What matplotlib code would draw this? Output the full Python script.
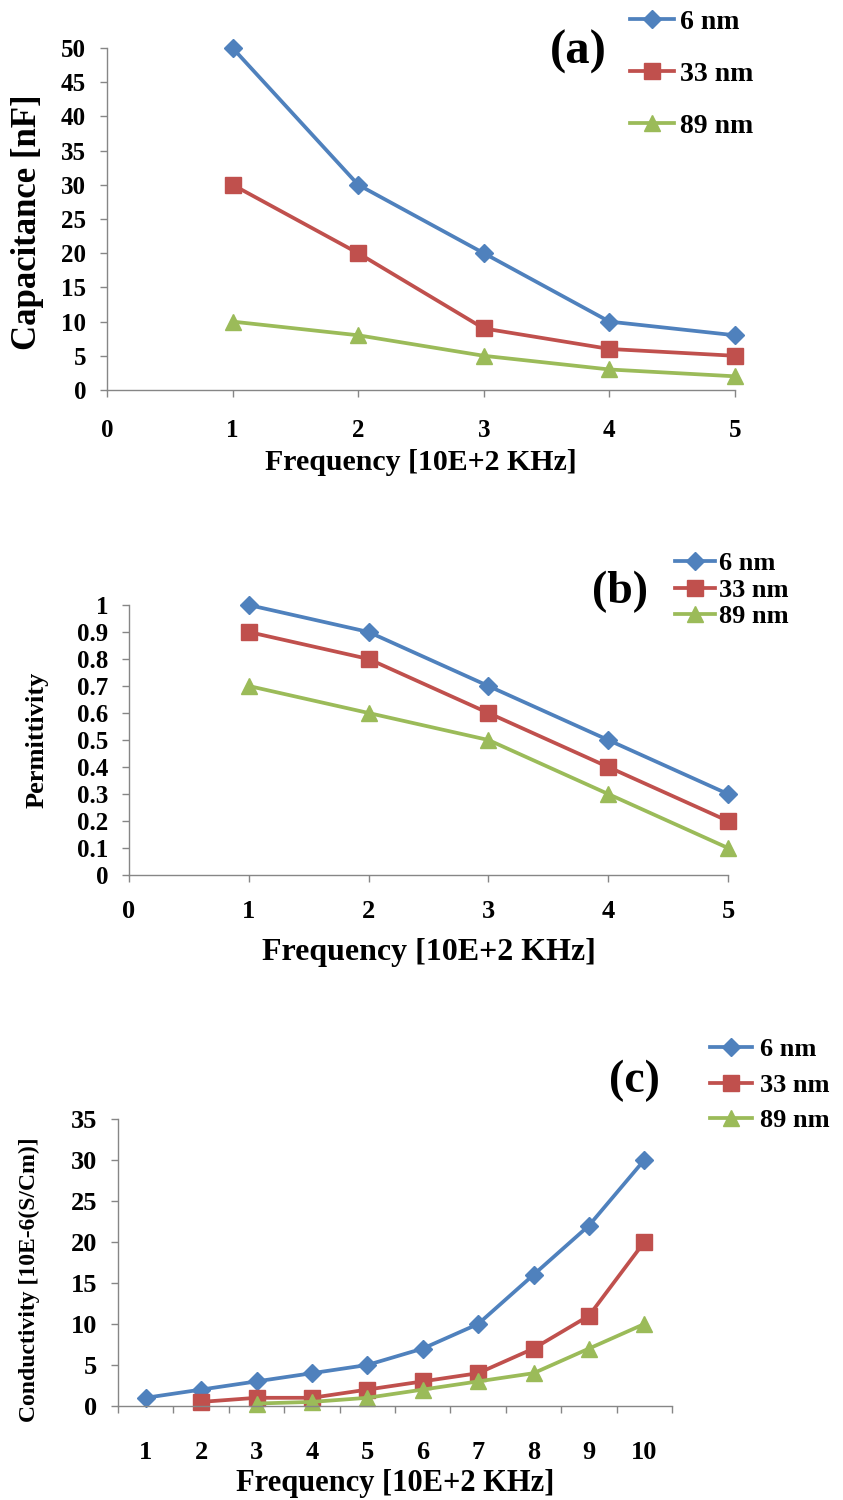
import numpy as np
import matplotlib.pyplot as plt
from matplotlib.ticker import FixedLocator, NullFormatter

# data
sizes = ["6 nm", "33 nm", "89 nm"]
colors = ["#4F81BD", "#C0504D", "#9BBB59"]
markers = ["D", "s", "^"]
msizes = [9, 11, 11]

freq_ab = [1, 2, 3, 4, 5]
cap_6 = [50, 30, 20, 10, 8]
cap_33 = [30, 20, 9, 6, 5]
cap_89 = [10, 8, 5, 3, 2]

perm_6 = [1.0, 0.9, 0.7, 0.5, 0.3]
perm_33 = [0.9, 0.8, 0.6, 0.4, 0.2]
perm_89 = [0.7, 0.6, 0.5, 0.3, 0.1]

freq_c = [1, 2, 3, 4, 5, 6, 7, 8, 9, 10]
cond_6 = [1, 2, 3, 4, 5, 7, 10, 16, 22, 30]
cond_33 = [np.nan, 0.5, 1, 1, 2, 3, 4, 7, 11, 20]
cond_89 = [np.nan, np.nan, 0.3, 0.5, 1, 2, 3, 4, 7, 10]

plt.rcParams['font.family'] = ['Liberation Serif', 'DejaVu Serif']
plt.rcParams['font.weight'] = 'bold'

W, H = 843, 1500
fig = plt.figure(figsize=(W / 100, H / 100), dpi=100)

GREY = "#868686"


def px_axes(left, right, top, bottom):
    return fig.add_axes([left / W, 1 - bottom / H, (right - left) / W, (bottom - top) / H])


def style(ax):
    for s in ["top", "right"]:
        ax.spines[s].set_visible(False)
    for s in ["left", "bottom"]:
        ax.spines[s].set_color(GREY)
        ax.spines[s].set_linewidth(1.0)
    ax.tick_params(colors=GREY, labelcolor="black", length=5, width=1.0)


def draw(ax, x, series):
    lines = []
    for y, c, m, ms, lab in zip(series, colors, markers, msizes, sizes):
        ln, = ax.plot(x, y, color=c, lw=2.7, marker=m, markersize=ms,
                      markerfacecolor=c, markeredgecolor=c, label=lab, clip_on=False)
        lines.append(ln)
    return lines


# panel (a)
ax1 = px_axes(107, 735, 48, 390)
style(ax1)
h1 = draw(ax1, freq_ab, [cap_6, cap_33, cap_89])
ax1.set_xlim(0, 5)
ax1.set_ylim(0, 50)
ax1.set_xticks(range(0, 6))
ax1.set_yticks(range(0, 51, 5))
ax1.tick_params(axis="x", labelsize=18, pad=16)
ax1.tick_params(axis="y", labelsize=18, pad=10)
ax1.set_xlabel("Frequency [10E+2 KHz]", fontsize=21.5, fontweight="bold")
ax1.xaxis.set_label_coords(0.5, -0.172)
ax1.set_ylabel("Capacitance [nF]", fontsize=25, fontweight="bold")
ax1.yaxis.set_label_coords(-0.1, 0.49)
fig.text(578 / W, 1 - 52 / H, "(a)", fontsize=35, fontweight="bold", ha="center", va="center")
fig.legend(h1, sizes, loc="center left", bbox_to_anchor=(630 / W, 1 - 74 / H),
           frameon=False, fontsize=20, handlelength=1.6, handletextpad=0.2,
           labelspacing=0.95, borderpad=0, borderaxespad=0)

# panel (b)
ax2 = px_axes(129, 728, 605, 875)
style(ax2)
h2 = draw(ax2, freq_ab, [perm_6, perm_33, perm_89])
ax2.set_xlim(0, 5)
ax2.set_ylim(0, 1)
ax2.set_xticks(range(0, 6))
ax2.set_yticks(np.round(np.arange(0, 1.01, 0.1), 1))
ax2.set_yticklabels(["0", "0.1", "0.2", "0.3", "0.4", "0.5", "0.6", "0.7", "0.8", "0.9", "1"])
ax2.tick_params(axis="x", labelsize=19, pad=13)
ax2.tick_params(axis="y", labelsize=18, pad=10)
ax2.set_xlabel("Frequency [10E+2 KHz]", fontsize=23, fontweight="bold")
ax2.xaxis.set_label_coords(0.5, -0.235)
ax2.set_ylabel("Permittivity", fontsize=19, fontweight="bold")
ax2.yaxis.set_label_coords(-0.135, 0.5)
fig.text(620 / W, 1 - 592 / H, "(b)", fontsize=33, fontweight="bold", ha="center", va="center")
fig.legend(h2, sizes, loc="center left", bbox_to_anchor=(675 / W, 1 - 590 / H),
           frameon=False, fontsize=19, handlelength=1.5, handletextpad=0.15,
           labelspacing=0.12, borderpad=0, borderaxespad=0)

# panel (c)
ax3 = px_axes(118, 672, 1119, 1406)
style(ax3)
h3 = draw(ax3, freq_c, [cond_6, cond_33, cond_89])
ax3.set_xlim(0.5, 10.5)
ax3.set_ylim(0, 35)
ax3.set_xticks(freq_c)
ax3.xaxis.set_minor_locator(FixedLocator(np.arange(0.5, 11, 1)))
ax3.xaxis.set_minor_formatter(NullFormatter())
ax3.tick_params(axis="x", which="major", length=0, labelsize=19, pad=25)
ax3.tick_params(axis="x", which="minor", length=5, width=1.0, colors=GREY)
ax3.set_yticks(range(0, 36, 5))
ax3.tick_params(axis="y", labelsize=19, pad=10)
ax3.set_xlabel("Frequency [10E+2 KHz]", fontsize=22, fontweight="bold")
ax3.xaxis.set_label_coords(0.5, -0.22)
ax3.set_ylabel("Conductivity [10E-6(S/Cm)]", fontsize=17, fontweight="bold")
ax3.yaxis.set_label_coords(-0.14, 0.44)
fig.text(634 / W, 1 - 1081 / H, "(c)", fontsize=33, fontweight="bold", ha="center", va="center")
fig.legend(h3, sizes, loc="center left", bbox_to_anchor=(710 / W, 1 - 1085 / H),
           frameon=False, fontsize=19, handlelength=1.6, handletextpad=0.3,
           labelspacing=0.45, borderpad=0, borderaxespad=0)

fig.savefig("out.png", dpi=100)
plt.close(fig)
